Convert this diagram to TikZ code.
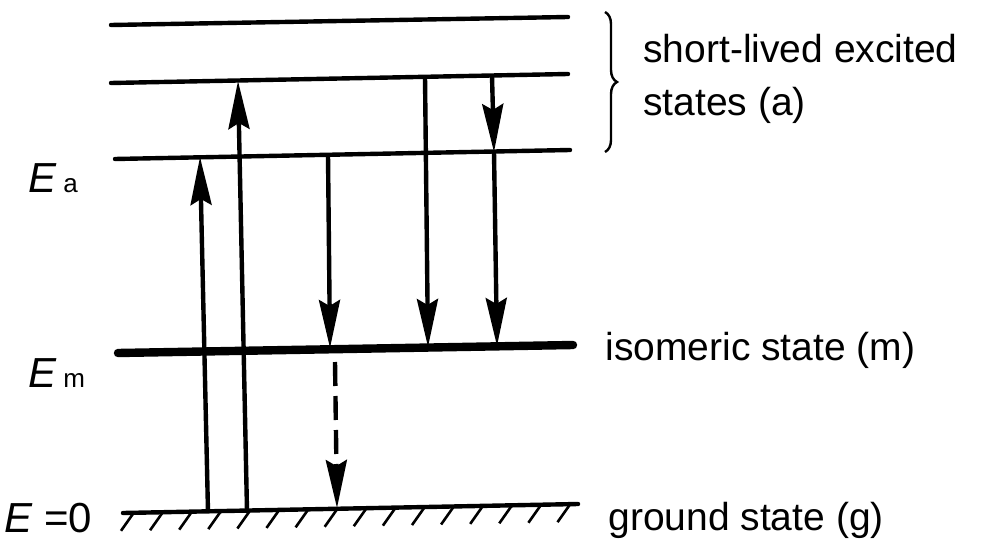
\documentclass[tikz,border=0pt]{standalone}
\usepackage{fontspec}
\setmainfont{Liberation Sans}
\usetikzlibrary{arrows.meta,decorations.pathreplacing}
\begin{document}
\begin{tikzpicture}[x=0.5pt,y=-0.5pt,
  level/.style={line width=2.2pt,line cap=round},
  thicklevel/.style={line width=4.2pt,line cap=round},
  trans/.style={line width=2.2pt,-{Stealth[length=24pt,width=10.5pt,inset=3pt]}},
  hatch/.style={line width=1.3pt},
  lbl/.style={font=\fontsize{19.5}{23}\selectfont,anchor=base west,inner sep=0pt},
  elbl/.style={font=\fontsize{21}{25}\selectfont,anchor=base west,inner sep=0pt}]
\useasboundingbox (0,0) rectangle (988,545);
% levels
\coordinate (l1a) at (111,25); \coordinate (l1b) at (568,17);
\coordinate (l2a) at (111,83); \coordinate (l2b) at (568,74);
\coordinate (l3a) at (115,159); \coordinate (l3b) at (570,150);
\coordinate (lma) at (118,353); \coordinate (lmb) at (573,345);
\coordinate (lga) at (123,513); \coordinate (lgb) at (578,504);
\draw[level] (l1a) -- (l1b);
\draw[level] (l2a) -- (l2b);
\draw[level] (l3a) -- (l3b);
\draw[thicklevel] (lma) -- (lmb);
\draw[level] (lga) -- (lgb);
% hatching
\foreach \i in {0,...,15}{
  \pgfmathsetmacro{\hx}{133+29.1*\i}
  \pgfmathsetmacro{\hy}{513-9*(\hx-123)/455+1}
  \draw[hatch] (\hx,\hy) -- (\hx-12,\hy+17);
}
% up arrows
\coordinate (u1s) at (208,512); \coordinate (u1e) at (200,157);
\coordinate (u2s) at (247,511); \coordinate (u2e) at (238,81);
\draw[trans] (u1s) -- (u1e);
\draw[trans] (u2s) -- (u2e);
% down arrows
\coordinate (d1s) at (328,155); \coordinate (d1e) at (330,348);
\coordinate (d2s) at (425,77); \coordinate (d2e) at (428,347);
\coordinate (d3s) at (492,76); \coordinate (d3m) at (494,152); \coordinate (d3e) at (497,346);
\draw[trans] (d1s) -- (d1e);
\draw[trans] (d2s) -- (d2e);
\draw[trans] (d3s) -- (d3m);
\draw[trans] (d3m) -- (d3e);
% dashed arrow
\coordinate (dds) at (335,362); \coordinate (dde) at (337,508);
\draw[trans,dash pattern=on 12pt off 5pt] (dds) -- (dde);
% brace
\coordinate (bt) at (605,12); \coordinate (bb) at (605,152);
\draw[line width=1.2pt,decorate,decoration={brace,amplitude=6pt}] (bt) -- (bb);
% labels
\node[lbl] (sl) at (643,63) {short-lived excited};
\node[lbl] (st) at (643,116) {states (a)};
\node[lbl] (is) at (605,360) {isomeric state (m)};
\node[lbl] (gs) at (608,530) {ground state (g)};
\node[elbl] (ea) at (28,192) {\itshape E\,\upshape\fontsize{13}{15}\selectfont a};
\node[elbl] (em) at (28,387) {\itshape E\,\upshape\fontsize{13}{15}\selectfont m};
\node[elbl] (e0) at (4,532) {\itshape E \upshape=0};
\end{tikzpicture}
\end{document}
